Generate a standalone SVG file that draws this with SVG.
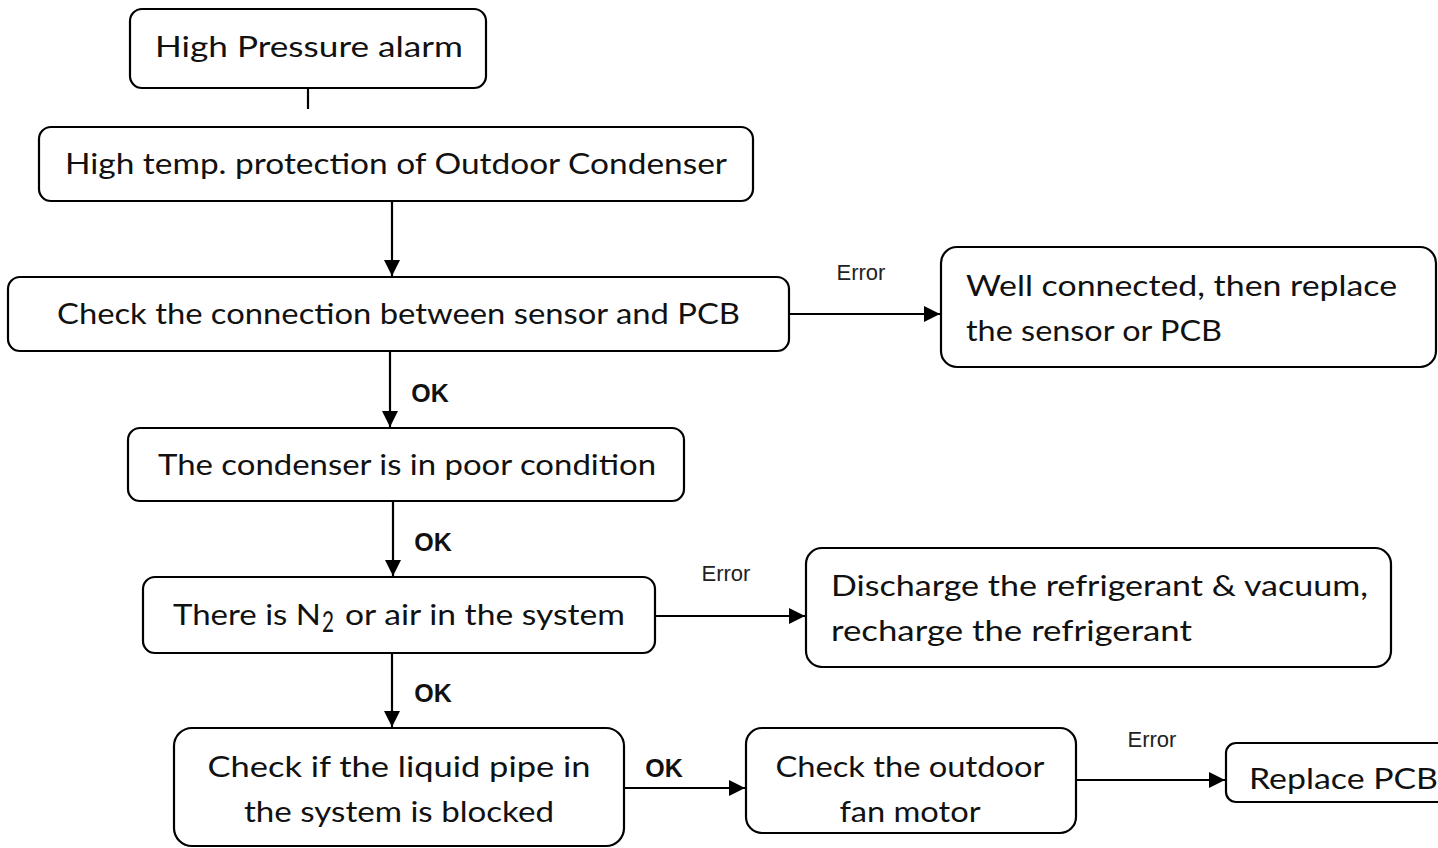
<svg xmlns="http://www.w3.org/2000/svg" width="1438" height="848" viewBox="0 0 1438 848">
<defs>
<marker id="ah" viewBox="0 0 10 10" refX="10" refY="5" markerWidth="16" markerHeight="16" markerUnits="userSpaceOnUse" orient="auto">
<path d="M0,0 L10,5 L0,10 z" fill="#000"/>
</marker>
<style>
.box{fill:#fff;stroke:#000;stroke-width:2.2}
.t{font-family:"Lato","DejaVu Sans",sans-serif;font-size:29px;fill:#111}
.c{text-anchor:middle}
.lbl{font-family:"Liberation Sans",Arial,sans-serif;font-size:22px;fill:#222}
.ok{font-family:"Liberation Sans",Arial,sans-serif;font-size:25px;font-weight:bold;fill:#111}
.ln{stroke:#000;stroke-width:2.2;fill:none}
</style>
</defs>
<rect width="1438" height="848" fill="#fff"/>
<g id="connectors">
<path class="ln" d="M308,88 V109"/>
<path class="ln" d="M392,201 V276" marker-end="url(#ah)"/>
<path class="ln" d="M789,314 H940" marker-end="url(#ah)"/>
<path class="ln" d="M390,351 V427" marker-end="url(#ah)"/>
<path class="ln" d="M393,501 V576" marker-end="url(#ah)"/>
<path class="ln" d="M655,616 H805" marker-end="url(#ah)"/>
<path class="ln" d="M392,653 V727" marker-end="url(#ah)"/>
<path class="ln" d="M624,788 H745" marker-end="url(#ah)"/>
<path class="ln" d="M1076,780 H1225" marker-end="url(#ah)"/>
<text class="lbl" x="861" y="280" text-anchor="middle">Error</text>
<text class="ok" x="430" y="402" text-anchor="middle">OK</text>
<text class="ok" x="433" y="551" text-anchor="middle">OK</text>
<text class="lbl" x="726" y="581" text-anchor="middle">Error</text>
<text class="ok" x="433" y="702" text-anchor="middle">OK</text>
<text class="ok" x="664" y="777" text-anchor="middle">OK</text>
<text class="lbl" x="1152" y="747" text-anchor="middle">Error</text>
</g>
<g id="n1">
<rect class="box" x="130" y="9" width="356" height="79" rx="12"/>
<text class="t" x="155" y="57" textLength="308" lengthAdjust="spacingAndGlyphs">High Pressure alarm</text>
</g>
<g id="n2">
<rect class="box" x="39" y="127" width="714" height="74" rx="12"/>
<text class="t" x="65" y="174" textLength="662" lengthAdjust="spacingAndGlyphs">High temp. protection of Outdoor Condenser</text>
</g>
<g id="n3">
<rect class="box" x="8" y="277" width="781" height="74" rx="12"/>
<text class="t" x="57" y="324" textLength="683" lengthAdjust="spacingAndGlyphs">Check the connection between sensor and PCB</text>
</g>
<g id="n4">
<rect class="box" x="941" y="247" width="495" height="120" rx="16"/>
<text class="t" x="966" y="296" textLength="431" lengthAdjust="spacingAndGlyphs">Well connected, then replace</text>
<text class="t" x="966" y="341" textLength="256" lengthAdjust="spacingAndGlyphs">the sensor or PCB</text>
</g>
<g id="n5">
<rect class="box" x="128" y="428" width="556" height="73" rx="12"/>
<text class="t" x="158" y="475" textLength="498" lengthAdjust="spacingAndGlyphs">The condenser is in poor condition</text>
</g>
<g id="n6">
<rect class="box" x="143" y="577" width="512" height="76" rx="12"/>
<text class="t" x="173" y="625" textLength="148" lengthAdjust="spacingAndGlyphs">There is N</text>
<text class="t" x="322" y="632" font-size="20" textLength="12" lengthAdjust="spacingAndGlyphs">2</text>
<text class="t" x="345" y="625" textLength="280" lengthAdjust="spacingAndGlyphs">or air in the system</text>
</g>
<g id="n7">
<rect class="box" x="806" y="548" width="585" height="119" rx="16"/>
<text class="t" x="831" y="596" textLength="537" lengthAdjust="spacingAndGlyphs">Discharge the refrigerant &amp; vacuum,</text>
<text class="t" x="831" y="641" textLength="361" lengthAdjust="spacingAndGlyphs">recharge the refrigerant</text>
</g>
<g id="n8">
<rect class="box" x="174" y="728" width="450" height="118" rx="18"/>
<text class="t c" x="399" y="777" textLength="383" lengthAdjust="spacingAndGlyphs">Check if the liquid pipe in</text>
<text class="t c" x="399" y="822" textLength="310" lengthAdjust="spacingAndGlyphs">the system is blocked</text>
</g>
<g id="n9">
<rect class="box" x="746" y="728" width="330" height="105" rx="16"/>
<text class="t c" x="910" y="777" textLength="269" lengthAdjust="spacingAndGlyphs">Check the outdoor</text>
<text class="t c" x="910" y="822" textLength="141" lengthAdjust="spacingAndGlyphs">fan motor</text>
</g>
<g id="n10">
<rect class="box" x="1226" y="743" width="230" height="59" rx="10"/>
<text class="t" x="1249" y="789" textLength="189" lengthAdjust="spacingAndGlyphs">Replace PCB</text>
</g>
</svg>
